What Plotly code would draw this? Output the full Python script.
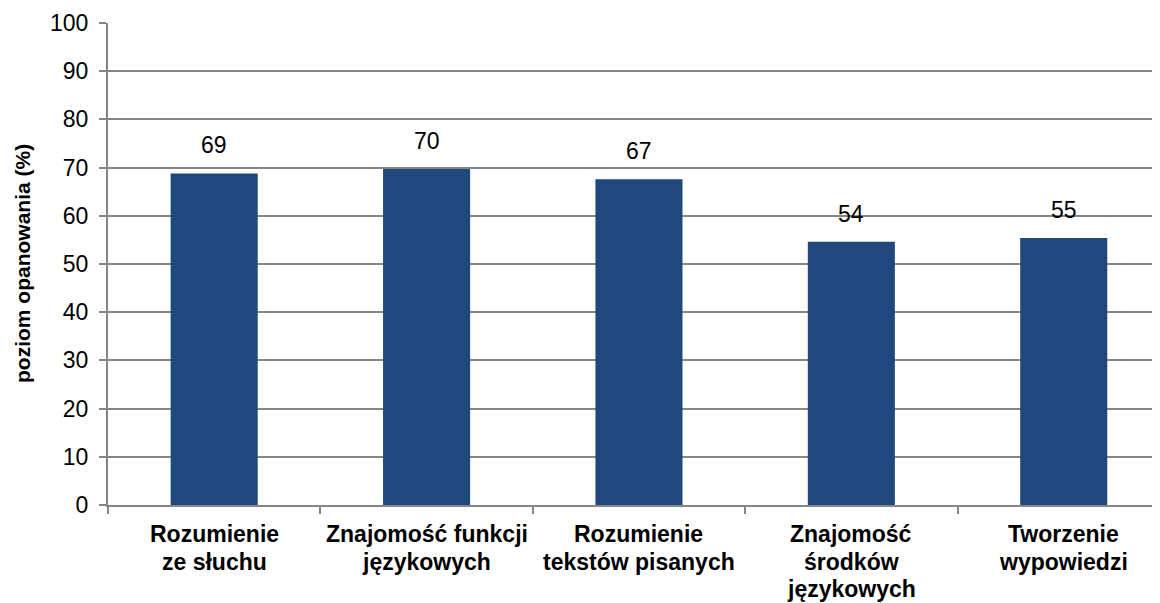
import plotly.graph_objects as go

category_lines = [
    ["Rozumienie", "ze słuchu"],
    ["Znajomość funkcji", "językowych"],
    ["Rozumienie", "tekstów pisanych"],
    ["Znajomość", "środków", "językowych"],
    ["Tworzenie", "wypowiedzi"],
]
categories = [" ".join(lines) for lines in category_lines]
values = [68.8, 69.7, 67.6, 54.6, 55.4]
labels = ["69", "70", "67", "54", "55"]
y_ticks = list(range(0, 101, 10))

FONT = "Liberation Sans, Arial, sans-serif"
GRID = "#868686"
FS = 23

fig = go.Figure()
fig.add_trace(go.Bar(
    x=categories, y=values,
    marker=dict(color="#1F497D", line=dict(width=0)),
    width=0.41,
    hoverinfo="skip",
))

# data labels
for c, v, t in zip(categories, values, labels):
    fig.add_annotation(x=c, y=v, text=t, showarrow=False,
                       yanchor="middle", yshift=28,
                       font=dict(family=FONT, size=FS, color="#000000"))

# category labels (one annotation per line for tighter line spacing)
for c, lines in zip(categories, category_lines):
    for k, line in enumerate(lines):
        fig.add_annotation(x=c, xref="x", y=0, yref="paper", text=f"<b>{line}</b>",
                           showarrow=False, yanchor="top", yshift=-(14 + 27.5 * k),
                           font=dict(family=FONT, size=FS, color="#000000"))

# y-axis title
fig.add_annotation(x=0, xref="paper", y=0.5, yref="paper",
                   text="<b>poziom opanowania (%)</b>", textangle=-90,
                   showarrow=False, xanchor="center", yanchor="middle", xshift=-86,
                   font=dict(family=FONT, size=21, color="#000000"))

fig.update_layout(
    width=1160, height=603,
    margin=dict(l=100, r=0, t=15, b=106),
    paper_bgcolor="white", plot_bgcolor="white",
    showlegend=False,
    font=dict(family=FONT, size=FS, color="#000000"),
)
fig.update_xaxes(
    range=[-0.5, 4.491],
    showline=True, linecolor=GRID, linewidth=2,
    ticks="outside", tickson="boundaries", ticklen=7, tickcolor=GRID, tickwidth=2,
    showticklabels=False,
    showgrid=False,
)
fig.update_yaxes(
    range=[0, 100], tickvals=y_ticks,
    showline=True, linecolor=GRID, linewidth=2,
    ticks="outside", ticklen=7, tickcolor=GRID, tickwidth=2,
    showgrid=True, gridcolor=GRID, gridwidth=1.8,
    zeroline=False,
    tickfont=dict(family=FONT, size=FS, color="#000000"),
    ticklabelstandoff=6,
)

fig.write_html("out.html")
